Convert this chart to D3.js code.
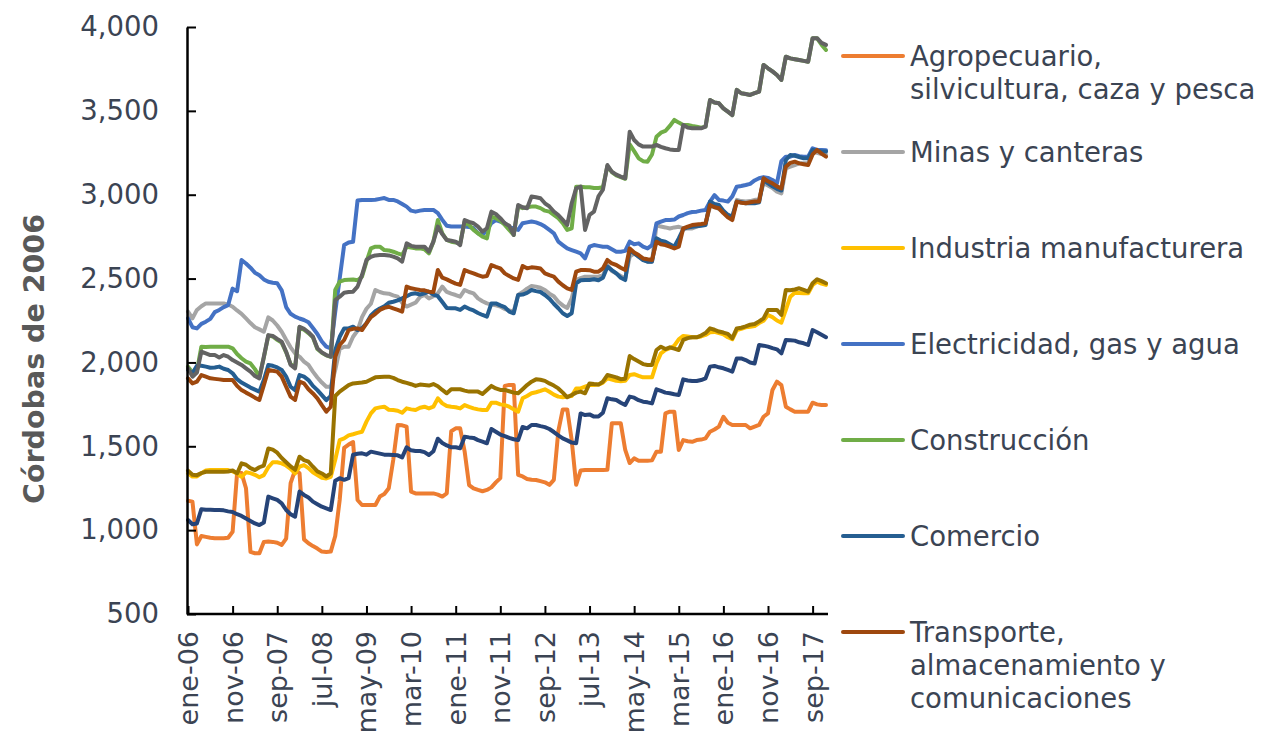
<!DOCTYPE html>
<html>
<head>
<meta charset="utf-8">
<script src="https://cdn.jsdelivr.net/npm/d3@7/dist/d3.min.js"></script>
<style>
  body { margin: 0; background: #fff; }
  text { font-family: "DejaVu Sans", Verdana, sans-serif; }
</style>
</head>
<body>
<div id="chart"></div>
<script>
'use strict';

// meses y años del eje horizontal (ene-06 ... dic-17)
var meses = ['ene', 'feb', 'mar', 'abr', 'may', 'jun', 'jul', 'ago', 'sep', 'oct', 'nov', 'dic'];
var anios = ['06', '07', '08', '09', '10', '11', '12', '13', '14', '15', '16', '17'];

var categorias = [];
anios.forEach(function (a) {
  meses.forEach(function (m) { categorias.push(m + '-' + a); });
});

var ticksY = [500, 1000, 1500, 2000, 2500, 3000, 3500, 4000];

// una fila por año
var agropecuario = [
  1175, 1170, 915, 965, 960, 955, 952, 952, 952, 955, 990, 1340,
  1340, 1250, 870, 862, 862, 930, 932, 930, 925, 912, 950, 1280,
  1358, 1340, 945, 922, 905, 890, 872, 870, 872, 965, 1180, 1490,
  1510, 1525, 1180, 1150, 1150, 1150, 1150, 1200, 1215, 1250, 1418, 1627,
  1625, 1617, 1230, 1219, 1219, 1219, 1219, 1219, 1212, 1200, 1219, 1590,
  1607, 1607, 1470, 1269, 1249, 1240, 1232, 1240, 1255, 1285, 1310, 1860,
  1866, 1866, 1330, 1320, 1305, 1300, 1299, 1292, 1285, 1270, 1300, 1590,
  1720, 1720, 1537, 1270, 1355, 1358, 1358, 1358, 1358, 1358, 1360, 1637,
  1637, 1637, 1478, 1400, 1428, 1414, 1414, 1414, 1416, 1468, 1468, 1696,
  1706, 1706, 1478, 1537, 1530, 1527, 1537, 1540, 1547, 1587, 1600, 1617,
  1676, 1640, 1627, 1627, 1627, 1627, 1607, 1617, 1627, 1676, 1696, 1836,
  1885, 1865, 1736, 1720, 1706, 1706, 1706, 1706, 1760, 1750, 1746, 1746
];

var minas = [
  2303, 2263, 2313, 2335, 2352, 2352, 2352, 2352, 2352, 2345, 2332, 2310,
  2290, 2263, 2235, 2210, 2197, 2183, 2269, 2250, 2220, 2183, 2135, 2090,
  2054, 2034, 2005, 1985, 1945, 1910, 1880, 1855, 1855, 1955, 2080, 2094,
  2094, 2153, 2190, 2270, 2320, 2350, 2432, 2420, 2412, 2410, 2400, 2392,
  2356, 2333, 2345, 2356, 2390, 2402, 2382, 2395, 2412, 2452, 2420, 2410,
  2402, 2392, 2432, 2420, 2412, 2382, 2365, 2352, 2345, 2340, 2333, 2318,
  2310, 2303, 2402, 2420, 2440, 2456, 2452, 2445, 2432, 2410, 2395, 2362,
  2340, 2325, 2382, 2492, 2502, 2511, 2511, 2511, 2511, 2520, 2581, 2545,
  2531, 2515, 2501, 2630, 2650, 2630, 2615, 2601, 2601, 2819, 2810, 2805,
  2799, 2805, 2809, 2799, 2799, 2799, 2810, 2819, 2829, 2929, 2929, 2915,
  2899, 2880, 2869, 2969, 2962, 2959, 2962, 2969, 2975, 3068, 3055, 3040,
  3018, 3008, 3157, 3167, 3177, 3187, 3187, 3187, 3257, 3250, 3242, 3237
];

var industria = [
  1338, 1320, 1320, 1340, 1355, 1358, 1358, 1358, 1358, 1358, 1350, 1338,
  1318, 1345, 1340, 1330, 1315, 1328, 1375, 1405, 1405, 1398, 1385, 1365,
  1338, 1378, 1388, 1370, 1345, 1328, 1312, 1308, 1318, 1420, 1537, 1547,
  1565, 1572, 1580, 1587, 1647, 1696, 1726, 1732, 1736, 1718, 1716, 1712,
  1700, 1726, 1720, 1716, 1730, 1736, 1726, 1736, 1786, 1756, 1740, 1736,
  1733, 1726, 1746, 1735, 1726, 1720, 1716, 1716, 1760, 1760, 1750, 1746,
  1736, 1720, 1706, 1786, 1800, 1816, 1822, 1830, 1840, 1825, 1808, 1796,
  1792, 1796, 1800, 1845, 1845, 1855, 1865, 1865, 1868, 1880, 1905, 1898,
  1891, 1888, 1890, 1925, 1930, 1920, 1911, 1911, 1911, 1995, 2054, 2074,
  2085, 2100, 2138, 2158, 2154, 2150, 2150, 2155, 2164, 2180, 2182, 2175,
  2168, 2150, 2138, 2193, 2200, 2209, 2213, 2217, 2235, 2249, 2283, 2270,
  2250, 2237, 2313, 2392, 2416, 2414, 2412, 2412, 2462, 2482, 2470, 2462
];

var electricidad = [
  2263, 2210, 2203, 2230, 2243, 2260, 2300, 2313, 2330, 2342, 2440, 2425,
  2611, 2590, 2565, 2535, 2520, 2495, 2481, 2475, 2472, 2430, 2330, 2290,
  2273, 2262, 2253, 2240, 2205, 2170, 2125, 2094, 2084, 2300, 2500, 2700,
  2715, 2720, 2965, 2969, 2969, 2969, 2970, 2975, 2980, 2969, 2969, 2960,
  2945, 2929, 2905, 2899, 2905, 2909, 2909, 2909, 2890, 2850, 2815, 2810,
  2810, 2810, 2810, 2808, 2800, 2770, 2760, 2790, 2830, 2849, 2840, 2830,
  2805, 2800, 2790, 2830, 2835, 2840, 2835, 2825, 2810, 2790, 2770, 2720,
  2700, 2680, 2670, 2660, 2650, 2621, 2690, 2700, 2695, 2690, 2690, 2675,
  2660, 2660, 2665, 2720, 2705, 2710, 2690, 2680, 2700, 2829, 2840, 2849,
  2849, 2852, 2870, 2879, 2890, 2897, 2899, 2905, 2909, 2959, 2998, 2969,
  2965, 2959, 2990, 3048, 3052, 3058, 3065, 3085, 3098, 3105, 3100, 3088,
  3068, 3200, 3227, 3227, 3237, 3230, 3227, 3227, 3277, 3267, 3267, 3265
];

var construccion = [
  1975, 1940, 1950, 2094, 2092, 2094, 2094, 2094, 2094, 2094, 2084, 2050,
  2025, 2005, 1994, 1960, 1915, 2030, 2160, 2155, 2135, 2118, 2060, 1990,
  1970, 2210, 2195, 2175, 2150, 2080, 2058, 2042, 2034, 2432, 2482, 2491,
  2493, 2495, 2490, 2511, 2601, 2680, 2690, 2690, 2670, 2668, 2660, 2650,
  2641, 2690, 2685, 2680, 2680, 2675, 2650, 2720, 2849, 2770, 2730, 2720,
  2715, 2710, 2840, 2820, 2790, 2770, 2750, 2740, 2869, 2860, 2845, 2820,
  2790, 2760, 2930, 2920, 2925, 2929, 2929, 2920, 2905, 2899, 2880, 2860,
  2830, 2790, 2800, 3048, 3048, 3045, 3045, 3040, 3040, 3045, 3170, 3135,
  3115, 3105, 3095, 3300, 3260, 3217, 3200, 3197, 3240, 3346, 3370, 3380,
  3410, 3446, 3430, 3416, 3416, 3410, 3405, 3400, 3406, 3565, 3550, 3545,
  3515, 3495, 3475, 3625, 3605, 3600, 3595, 3605, 3615, 3774, 3754, 3735,
  3714, 3684, 3823, 3813, 3808, 3803, 3798, 3793, 3933, 3933, 3895, 3863
];

var comercio = [
  1955, 1935, 1980, 1980, 1975, 1968, 1970, 1975, 1962, 1955, 1935, 1900,
  1880, 1865, 1850, 1838, 1825, 1895, 1985, 1980, 1970, 1955, 1915, 1855,
  1835, 1925, 1915, 1895, 1860, 1835, 1805, 1775, 1800, 2074, 2153, 2203,
  2203, 2213, 2193, 2205, 2233, 2280, 2305, 2322, 2335, 2356, 2362, 2370,
  2382, 2395, 2408, 2412, 2405, 2412, 2422, 2405, 2395, 2360, 2325, 2323,
  2323, 2313, 2333, 2320, 2310, 2295, 2283, 2273, 2352, 2352, 2340, 2330,
  2303, 2293, 2402, 2405, 2415, 2432, 2425, 2420, 2402, 2380, 2350, 2323,
  2293, 2277, 2293, 2472, 2490, 2492, 2492, 2496, 2490, 2505, 2571, 2550,
  2531, 2505, 2491, 2670, 2650, 2630, 2610, 2601, 2601, 2740, 2725, 2720,
  2705, 2690, 2740, 2795, 2805, 2809, 2812, 2815, 2819, 2959, 2945, 2939,
  2905, 2880, 2869, 2959, 2955, 2949, 2949, 2949, 2955, 3088, 3068, 3050,
  3035, 3025, 3207, 3237, 3232, 3225, 3217, 3217, 3267, 3262, 3258, 3257
];

var transporte = [
  1905, 1875, 1885, 1925, 1915, 1905, 1902, 1899, 1895, 1895, 1895, 1860,
  1835, 1820, 1806, 1790, 1776, 1865, 1955, 1950, 1945, 1915, 1855, 1796,
  1776, 1885, 1875, 1840, 1815, 1786, 1745, 1706, 1736, 2034, 2104, 2134,
  2193, 2200, 2203, 2193, 2233, 2270, 2290, 2313, 2325, 2332, 2322, 2313,
  2303, 2452, 2442, 2437, 2432, 2430, 2422, 2420, 2551, 2505, 2495, 2482,
  2470, 2462, 2551, 2540, 2531, 2520, 2511, 2515, 2581, 2570, 2561, 2531,
  2515, 2501, 2492, 2575, 2561, 2567, 2565, 2560, 2531, 2520, 2511, 2482,
  2460, 2442, 2432, 2541, 2551, 2551, 2550, 2541, 2541, 2561, 2611, 2590,
  2581, 2565, 2551, 2680, 2655, 2640, 2620, 2615, 2611, 2720, 2705, 2700,
  2690, 2680, 2690, 2800, 2810, 2819, 2822, 2825, 2829, 2939, 2925, 2919,
  2890, 2865, 2849, 2959, 2952, 2949, 2955, 2959, 2960, 3098, 3080, 3068,
  3050, 3038, 3167, 3190, 3197, 3187, 3182, 3177, 3240, 3267, 3245, 3227
];

// series sin entrada en la leyenda
var serieGris = [
  1965, 1915, 1940, 2064, 2054, 2044, 2044, 2030, 2044, 2034, 2014, 2000,
  1985, 1965, 1945, 1919, 1905, 2034, 2163, 2158, 2140, 2124, 2064, 1985,
  1965, 2213, 2200, 2180, 2153, 2084, 2060, 2044, 2034, 2372, 2392, 2416,
  2420, 2422, 2452, 2521, 2611, 2630, 2638, 2640, 2640, 2638, 2631, 2621,
  2601, 2710, 2695, 2690, 2690, 2690, 2661, 2720, 2810, 2765, 2730, 2725,
  2720, 2700, 2849, 2838, 2830, 2810, 2780, 2800, 2899, 2885, 2860, 2830,
  2815, 2760, 2939, 2925, 2919, 2989, 2985, 2979, 2949, 2930, 2900, 2879,
  2850, 2820, 2949, 3038, 3048, 2790, 2880, 2899, 2990, 3030, 3177, 3137,
  3120, 3108, 3098, 3376, 3326, 3300, 3287, 3287, 3287, 3297, 3285, 3277,
  3270, 3267, 3267, 3416, 3400, 3396, 3396, 3396, 3406, 3565, 3550, 3545,
  3515, 3495, 3475, 3625, 3605, 3600, 3595, 3605, 3615, 3774, 3754, 3735,
  3714, 3684, 3823, 3813, 3808, 3803, 3798, 3793, 3933, 3933, 3905, 3893
];

var serieOcre = [
  1355, 1330, 1328, 1340, 1348, 1348, 1348, 1348, 1348, 1350, 1356, 1338,
  1398, 1390, 1370, 1358, 1375, 1385, 1487, 1480, 1462, 1430, 1405, 1380,
  1360, 1438, 1418, 1408, 1378, 1350, 1338, 1320, 1338, 1800, 1826, 1845,
  1865, 1875, 1878, 1880, 1885, 1898, 1911, 1913, 1915, 1915, 1908, 1895,
  1885, 1878, 1870, 1860, 1868, 1865, 1862, 1871, 1858, 1836, 1816, 1840,
  1840, 1840, 1832, 1826, 1826, 1826, 1812, 1836, 1860, 1845, 1836, 1836,
  1828, 1820, 1816, 1840, 1865, 1885, 1899, 1897, 1890, 1875, 1862, 1845,
  1820, 1792, 1806, 1820, 1826, 1816, 1875, 1871, 1868, 1885, 1925, 1918,
  1911, 1900, 1903, 2038, 2020, 2005, 1990, 1985, 1985, 2074, 2094, 2080,
  2090, 2082, 2074, 2134, 2145, 2150, 2150, 2160, 2175, 2203, 2195, 2184,
  2178, 2170, 2144, 2203, 2207, 2215, 2225, 2229, 2245, 2263, 2313, 2313,
  2313, 2283, 2432, 2430, 2435, 2442, 2432, 2422, 2472, 2496, 2485, 2472
];

var serieMarino = [
  1060, 1035, 1040, 1125, 1122, 1122, 1120, 1120, 1118, 1112, 1108, 1095,
  1085, 1070, 1055, 1040, 1030, 1045, 1200, 1190, 1180, 1160, 1120, 1095,
  1080, 1230, 1210, 1195, 1170, 1155, 1140, 1130, 1120, 1295, 1310, 1300,
  1310, 1450, 1455, 1458, 1450, 1468, 1462, 1456, 1450, 1450, 1448, 1446,
  1434, 1494, 1476, 1472, 1472, 1465, 1448, 1470, 1545, 1520, 1505, 1494,
  1494, 1488, 1557, 1553, 1550, 1537, 1528, 1518, 1603, 1587, 1570, 1561,
  1550, 1542, 1537, 1615, 1607, 1627, 1627, 1620, 1614, 1603, 1585, 1565,
  1547, 1535, 1522, 1518, 1696, 1686, 1690, 1677, 1677, 1700, 1786, 1780,
  1776, 1760, 1746, 1796, 1790, 1775, 1766, 1762, 1756, 1840, 1830, 1820,
  1816, 1810, 1806, 1899, 1892, 1889, 1889, 1895, 1905, 1975, 1979, 1971,
  1965, 1955, 1945, 2024, 2024, 2014, 2000, 1994, 2104, 2100, 2094, 2085,
  2078, 2054, 2134, 2132, 2130, 2120, 2114, 2104, 2193, 2180, 2165, 2150
];

var series = [
  { valores: agropecuario, color: '#ED7D31', leyenda: ['Agropecuario,', 'silvicultura, caza y pesca'] },
  { valores: minas,        color: '#A5A5A5', leyenda: ['Minas y canteras'] },
  { valores: industria,    color: '#FFC000', leyenda: ['Industria manufacturera'] },
  { valores: electricidad, color: '#4472C4', leyenda: ['Electricidad, gas y agua'] },
  { valores: construccion, color: '#70AD47', leyenda: ['Construcción'] },
  { valores: comercio,     color: '#255E91', leyenda: ['Comercio'] },
  { valores: transporte,   color: '#9E480E', leyenda: ['Transporte,', 'almacenamiento y', 'comunicaciones'] },
  { valores: serieGris,    color: '#636363', leyenda: null },
  { valores: serieOcre,    color: '#997300', leyenda: null },
  { valores: serieMarino,  color: '#264478', leyenda: null }
];

var W = 1261, H = 736;
var textColor = '#3B4453';
var fontSize = '27.5px';

var svg = d3.select('#chart')
  .append('svg')
  .attr('width', W)
  .attr('height', H);

var x = d3.scalePoint()
  .domain(categorias)
  .range([188, 826]);

var y = d3.scaleLinear()
  .domain([500, 4000])
  .range([614, 27]);

// series
var line = d3.line()
  .x(function (d, i) { return x(categorias[i]); })
  .y(function (d) { return y(d); });

svg.append('g')
  .selectAll('path')
  .data(series)
  .enter()
  .append('path')
  .attr('d', function (s) { return line(s.valores); })
  .attr('fill', 'none')
  .attr('stroke', function (s) { return s.color; })
  .attr('stroke-width', 4)
  .attr('stroke-linejoin', 'round')
  .attr('stroke-linecap', 'round');

// eje Y
var ejeY = svg.append('g')
  .attr('transform', 'translate(187,0)')
  .call(d3.axisLeft(y)
    .tickValues(ticksY)
    .tickSizeInner(-9)
    .tickSizeOuter(0)
    .tickPadding(28)
    .tickFormat(d3.format(',')));

// eje X
var ejeX = svg.append('g')
  .attr('transform', 'translate(0,614)')
  .call(d3.axisBottom(x)
    .tickValues(categorias.filter(function (c, i) { return i % 10 === 0; }))
    .tickSizeInner(-8)
    .tickSizeOuter(0));

[ejeY, ejeX].forEach(function (g) {
  g.select('.domain').attr('stroke', '#000').attr('stroke-width', 2.5);
  g.selectAll('.tick line').attr('stroke', '#000').attr('stroke-width', 2);
  g.selectAll('.tick text')
    .attr('fill', textColor)
    .style('font-size', fontSize);
});

ejeX.select('.domain').attr('d', 'M187,0H828');

// etiquetas verticales; algo más pequeñas para que "may-09" quepa
ejeX.selectAll('.tick text')
  .style('font-size', '27px')
  .attr('transform', 'rotate(-90)')
  .attr('x', -17)
  .attr('y', 0)
  .attr('dy', '0.35em')
  .attr('text-anchor', 'end');

// título del eje Y
svg.append('text')
  .attr('transform', 'translate(34,359) rotate(-90)')
  .attr('text-anchor', 'middle')
  .attr('dy', '0.35em')
  .attr('fill', '#595959')
  .style('font-size', '28.5px')
  .style('font-weight', 'bold')
  .text('Córdobas de 2006');

// leyenda
var legend = svg.append('g')
  .selectAll('g')
  .data(series.filter(function (s) { return s.leyenda; }))
  .enter()
  .append('g')
  .attr('transform', function (s, i) { return 'translate(843,' + (56 + i * 96) + ')'; });

legend.append('line')
  .attr('x1', 0)
  .attr('x2', 60)
  .attr('stroke', function (s) { return s.color; })
  .attr('stroke-width', 4)
  .attr('stroke-linecap', 'round');

legend.append('text')
  .attr('x', 67)
  .attr('fill', textColor)
  .style('font-size', fontSize)
  .selectAll('tspan')
  .data(function (s) { return s.leyenda; })
  .enter()
  .append('tspan')
  .attr('x', 67)
  .attr('y', function (d, i) { return i * 33; })
  .attr('dy', '0.35em')
  .text(function (d) { return d; });
</script>
</body>
</html>
